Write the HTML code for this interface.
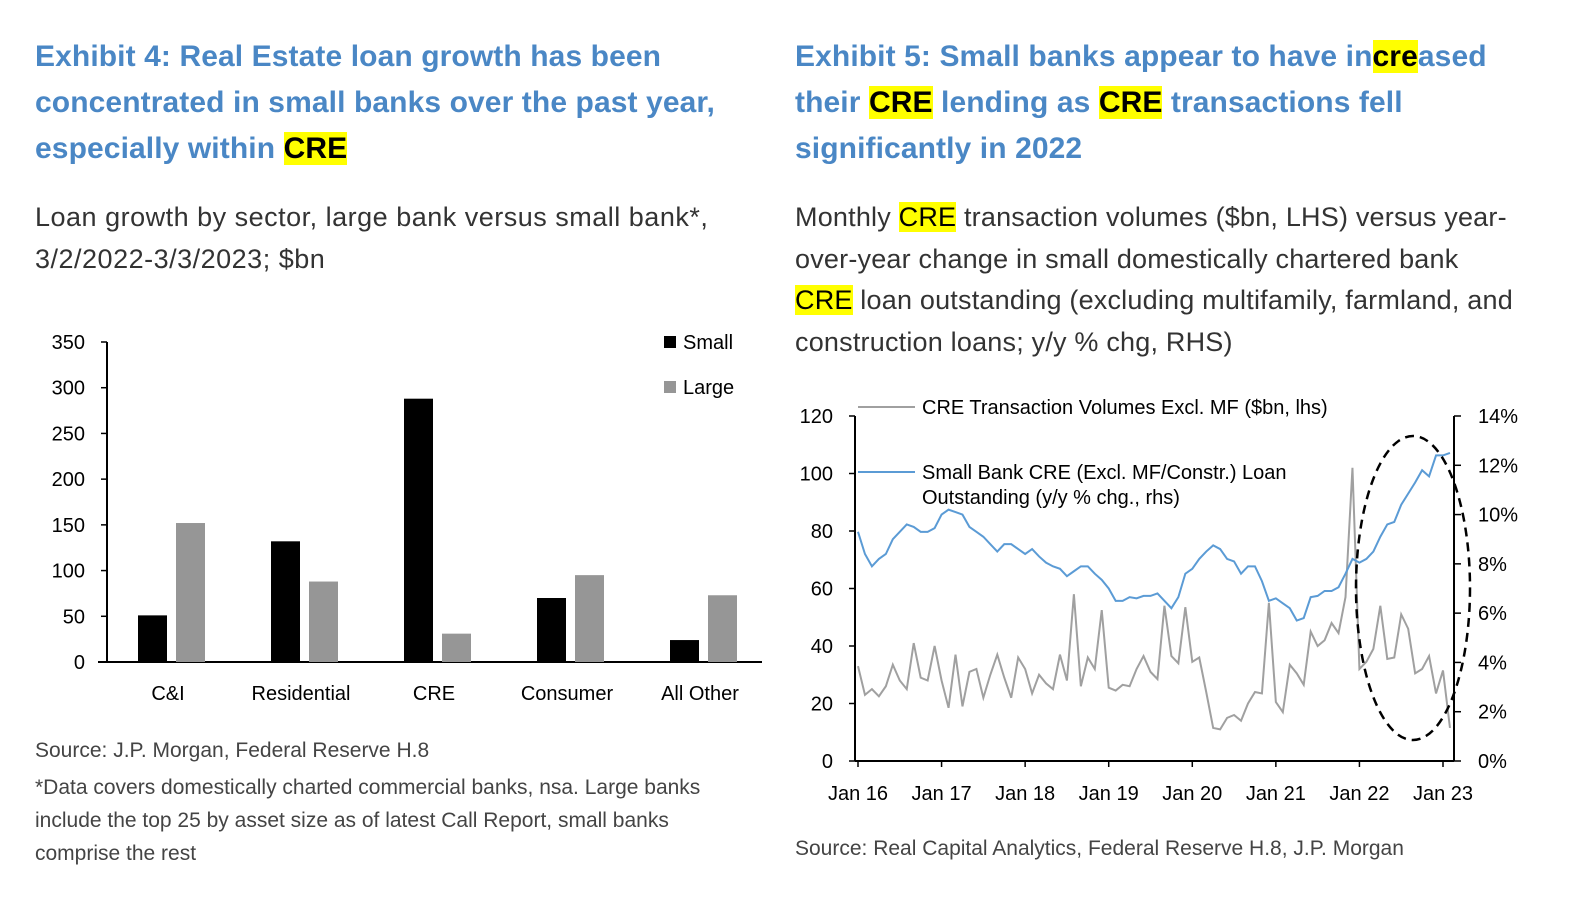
<!DOCTYPE html>
<html><head><meta charset="utf-8"><style>
body{margin:0;background:#fff;width:1588px;height:908px;overflow:hidden;font-family:"Liberation Sans",Arial,sans-serif}
.t{position:absolute;font-weight:bold;color:#4a87c5;font-size:30px;line-height:46px;letter-spacing:0.1px}
.s{position:absolute;color:#333;font-size:27px;line-height:41.5px;letter-spacing:0.5px}
.h{background:#ffff00;color:#000}
.src{position:absolute;color:#444;font-size:21px;line-height:33px}
</style></head><body>
<div class="t" style="left:35px;top:34px;width:720px">Exhibit 4: Real Estate loan growth has been concentrated in small banks over the past year, especially within <span class="h">CRE</span></div>
<div class="s" style="left:35px;top:197px;width:690px">Loan growth by sector, large bank versus small bank*, 3/2/2022-3/3/2023; $bn</div>
<div class="t" style="left:795px;top:34px;width:712px">Exhibit 5: Small banks appear to have in<span class="h">cre</span>ased their <span class="h">CRE</span> lending as <span class="h">CRE</span> transactions fell significantly in 2022</div>
<div class="s" style="left:795px;top:197px;width:760px;letter-spacing:0.2px;white-space:nowrap">Monthly <span class="h">CRE</span> transaction volumes ($bn, LHS) versus year-<br>over-year change in small domestically chartered bank<br><span class="h">CRE</span> loan outstanding (excluding multifamily, farmland, and<br>construction loans; y/y % chg, RHS)</div>
<div class="src" style="left:35px;top:734px;width:720px">Source: J.P. Morgan, Federal Reserve H.8</div>
<div class="src" style="left:35px;top:771px;width:700px">*Data covers domestically charted commercial banks, nsa. Large banks include the top 25 by asset size as of latest Call Report, small banks comprise the rest</div>
<div class="src" style="left:795px;top:832px">Source: Real Capital Analytics, Federal Reserve H.8, J.P. Morgan</div>
<svg id="svg" width="1588" height="908" style="position:absolute;left:0;top:0" font-family="Liberation Sans, Arial, sans-serif"></svg>
<script>
const barCats=["C&I","Residential","CRE","Consumer","All Other"];
const smallVals=[51,132,288,70,24];
const largeVals=[152,88,31,95,73];
const barTicks=[0,50,100,150,200,250,300,350];
const volVals=[33,23,25,22.5,26,33.5,28,25,41,29,28,40,
28,18.5,37,19,31,32,22,30,37,29,22,36,
32,23.5,30,27,25,37,28,58,26,36,32,52.5,
25.5,24.5,26.5,26,32,36.5,31,28.5,54,36.5,34,53.5,
34.5,36,24,11.5,11,15,16,14,20,24,23.5,55,
20.5,17,33.5,30.5,26.5,45,40,42,48,44.5,57,102,
32,34.5,39,54,35.5,36,51,46,30.5,32,36.5,23.5,
31.5,11.5];
const loanPct=[9.3,8.4,7.9,8.2,8.4,9.0,9.3,9.6,9.5,9.3,9.3,9.45,
10.0,10.2,10.1,10.0,9.5,9.3,9.1,8.8,8.5,8.8,8.8,8.6,
8.4,8.6,8.3,8.05,7.9,7.8,7.5,7.7,7.9,7.9,7.6,7.35,
7.0,6.5,6.5,6.65,6.6,6.7,6.7,6.8,6.5,6.2,6.65,7.6,
7.8,8.2,8.5,8.75,8.6,8.2,8.1,7.6,7.9,7.9,7.3,6.5,
6.6,6.4,6.2,5.7,5.8,6.65,6.7,6.9,6.9,7.05,7.6,8.2,
8.05,8.2,8.5,9.1,9.6,9.7,10.4,10.85,11.3,11.8,11.55,12.4,
12.4,12.5];
const leftTicks=[0,20,40,60,80,100,120];
const rightTicks=[0,2,4,6,8,10,12,14];
const xLabels=["Jan 16","Jan 17","Jan 18","Jan 19","Jan 20","Jan 21","Jan 22","Jan 23"];

const svg=document.getElementById('svg');
const NS='http://www.w3.org/2000/svg';
function mk(tag,attrs,text){const e=document.createElementNS(NS,tag);for(const k in attrs)e.setAttribute(k,attrs[k]);if(text!==undefined)e.textContent=text;svg.appendChild(e);return e;}

const by=v=>662-v*(320/350);
const bx=i=>165+i*133;
let e;
e=mk('line',{x1:107,y1:342,x2:107,y2:662,stroke:'#000','stroke-width':2});


e=mk('line',{x1:98,y1:662,x2:762,y2:662,stroke:'#000','stroke-width':2});


barTicks.forEach(t=>{
  e=mk('text',{x:85,y:by(t)+7,'font-size':20,'text-anchor':'end',fill:'#000'},t);
  
  
  mk('line',{x1:101,y1:by(t),x2:107,y2:by(t),stroke:'#000','stroke-width':1.5});
});
barCats.forEach((c,i)=>{
  e=mk('rect',{x:bx(i)-27,y:by(smallVals[i]),width:29,height:662-by(smallVals[i]),fill:'#000'});
  
  
  e=mk('rect',{x:bx(i)+11,y:by(largeVals[i]),width:29,height:662-by(largeVals[i]),fill:'#969696'});
  
  
  e=mk('text',{x:bx(i)+3,y:700,'font-size':20,'text-anchor':'middle',fill:'#000'},c);
  
  
});
e=mk('rect',{x:664,y:336,width:12,height:12,fill:'#000'});


e=mk('text',{x:683,y:349,'font-size':20},'Small');


e=mk('rect',{x:664,y:381,width:12,height:12,fill:'#969696'});


e=mk('text',{x:683,y:394,'font-size':20},'Large');



const lx=i=>858+i*(585/84);
const ly=v=>761-v*(345/120);
const ry=v=>761-v*(345/14);
e=mk('line',{x1:855,y1:416,x2:855,y2:761,stroke:'#000','stroke-width':2});


e=mk('line',{x1:1454,y1:416,x2:1454,y2:761,stroke:'#000','stroke-width':2});


e=mk('line',{x1:855,y1:761,x2:1454,y2:761,stroke:'#000','stroke-width':2});


leftTicks.forEach(t=>{
  mk('line',{x1:849,y1:ly(t),x2:855,y2:ly(t),stroke:'#000','stroke-width':1.5});
  e=mk('text',{x:833,y:ly(t)+7,'font-size':20,'text-anchor':'end'},t);
  
  
});
rightTicks.forEach(t=>{
  mk('line',{x1:1454,y1:ry(t),x2:1461,y2:ry(t),stroke:'#000','stroke-width':1.5});
  e=mk('text',{x:1478,y:ry(t)+7,'font-size':20},t+'%');
  
  
});
xLabels.forEach((l,k)=>{
  const x=lx(k*12);
  mk('line',{x1:x,y1:761,x2:x,y2:767,stroke:'#000','stroke-width':1.5});
  e=mk('text',{x:x,y:800,'font-size':20,'text-anchor':'middle'},l);
  
  
});
e=mk('polyline',{points:volVals.map((v,i)=>lx(i)+','+ly(v)).join(' '),fill:'none',stroke:'#a0a0a0','stroke-width':2});


e=mk('polyline',{points:loanPct.map((v,i)=>lx(i)+','+ry(v)).join(' '),fill:'none',stroke:'#5b9bd5','stroke-width':2});


e=mk('ellipse',{cx:1413,cy:588,rx:57,ry:152,fill:'none',stroke:'#000','stroke-width':2.5,'stroke-dasharray':'9,6'});


e=mk('line',{x1:858,y1:407,x2:915,y2:407,stroke:'#a0a0a0','stroke-width':2});


e=mk('text',{x:922,y:414,'font-size':20},'CRE Transaction Volumes Excl. MF ($bn, lhs)');


e=mk('line',{x1:858,y1:472,x2:915,y2:472,stroke:'#5b9bd5','stroke-width':2});


e=mk('text',{x:922,y:479,'font-size':20},'Small Bank CRE (Excl. MF/Constr.) Loan');


e=mk('text',{x:922,y:504,'font-size':20},'Outstanding (y/y % chg., rhs)');


</script>
</body></html>
